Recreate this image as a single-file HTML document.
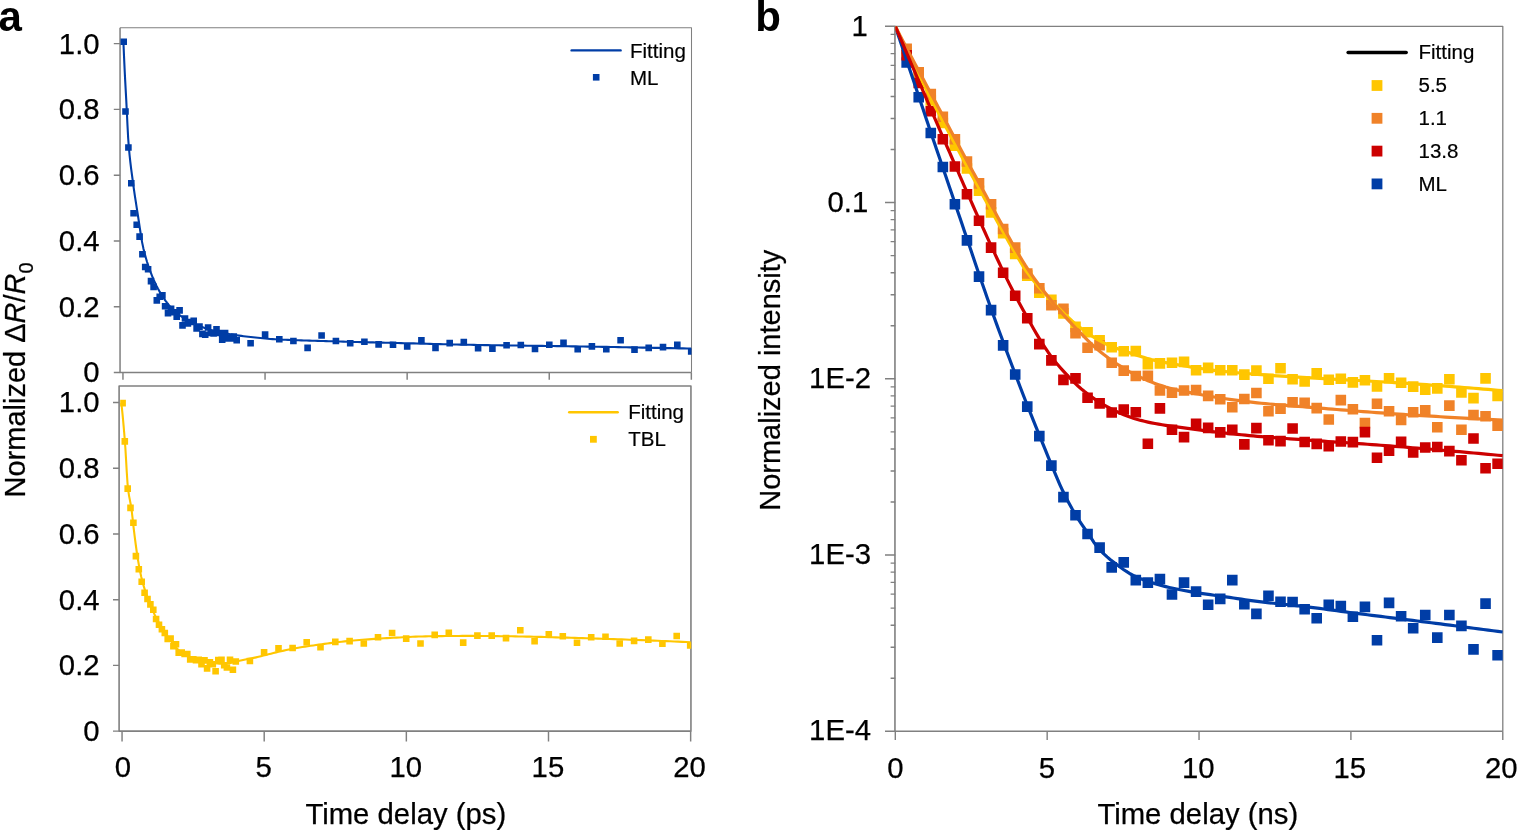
<!DOCTYPE html>
<html lang="en"><head><meta charset="utf-8"><title>Figure</title>
<style>html,body{margin:0;padding:0;background:#fff}body{width:1517px;height:830px;overflow:hidden}svg{display:block}</style></head>
<body>
<svg width="1517" height="830" viewBox="0 0 1517 830" font-family="Liberation Sans, Arial, Helvetica, sans-serif" stroke-linejoin="round">
<rect width="1517" height="830" fill="#fff"/>
<defs><clipPath id="ca1"><rect x="120.2" y="27.7" width="571.3" height="344.4"/></clipPath><clipPath id="ca2"><rect x="120.2" y="386.4" width="571" height="344.6"/></clipPath><clipPath id="cb"><rect x="895.4" y="26.3" width="607.4" height="705"/></clipPath></defs>
<path d="M120.05 27.65V372.5H691.5" fill="none" stroke="#808080" stroke-width="1.5"/><path d="M120.05 27.65H691.5V372.5" fill="none" stroke="#808080" stroke-width="1.05"/>
<g clip-path="url(#ca1)"><path d="M120.4 38.4h6.6v6.6h-6.6zM122.2 108.2h6.6v6.6h-6.6zM125.1 144.2h6.6v6.6h-6.6zM128 180h6.6v6.6h-6.6zM130.3 210h6.6v6.6h-6.6zM133.4 221.5h6.6v6.6h-6.6zM136.3 233.3h6.6v6.6h-6.6zM139.1 251h6.6v6.6h-6.6zM141.9 263.7h6.6v6.6h-6.6zM144.8 265.9h6.6v6.6h-6.6zM147.7 277.8h6.6v6.6h-6.6zM150.3 283.6h6.6v6.6h-6.6zM153.5 297.1h6.6v6.6h-6.6zM156.4 293.5h6.6v6.6h-6.6zM159.1 292.1h6.6v6.6h-6.6zM161.8 302.9h6.6v6.6h-6.6zM164.7 309.8h6.6v6.6h-6.6zM167.8 305.6h6.6v6.6h-6.6zM170.5 308.9h6.6v6.6h-6.6zM173.4 313.4h6.6v6.6h-6.6zM176.3 307.1h6.6v6.6h-6.6zM179.2 322.1h6.6v6.6h-6.6zM181.7 315.2h6.6v6.6h-6.6zM184.6 320.1h6.6v6.6h-6.6zM187.5 318.7h6.6v6.6h-6.6zM190.4 317.4h6.6v6.6h-6.6zM193.3 325.1h6.6v6.6h-6.6zM196.2 323.3h6.6v6.6h-6.6zM199.1 330.6h6.6v6.6h-6.6zM201.9 331.5h6.6v6.6h-6.6zM204.8 324.2h6.6v6.6h-6.6zM207.5 329.7h6.6v6.6h-6.6zM210.3 330.2h6.6v6.6h-6.6zM213.2 326h6.6v6.6h-6.6zM216 329.7h6.6v6.6h-6.6zM218.9 336.3h6.6v6.6h-6.6zM221.8 329.7h6.6v6.6h-6.6zM224.7 335.1h6.6v6.6h-6.6zM227.6 335.1h6.6v6.6h-6.6zM230.5 333.3h6.6v6.6h-6.6zM233.4 336.9h6.6v6.6h-6.6zM247.3 340h6.6v6.6h-6.6zM261.8 331.3h6.6v6.6h-6.6zM276 335.9h6.6v6.6h-6.6zM290.1 337.7h6.6v6.6h-6.6zM304.3 344.6h6.6v6.6h-6.6zM318.3 332.2h6.6v6.6h-6.6zM332.6 337.7h6.6v6.6h-6.6zM346.9 339.9h6.6v6.6h-6.6zM361.1 338.5h6.6v6.6h-6.6zM375.3 341.1h6.6v6.6h-6.6zM389.7 341.4h6.6v6.6h-6.6zM403.9 343.1h6.6v6.6h-6.6zM418.1 337h6.6v6.6h-6.6zM432.2 344.6h6.6v6.6h-6.6zM446.4 339.8h6.6v6.6h-6.6zM460.5 338.8h6.6v6.6h-6.6zM474.8 344.9h6.6v6.6h-6.6zM489.1 345.3h6.6v6.6h-6.6zM503.3 341.9h6.6v6.6h-6.6zM517.5 341.7h6.6v6.6h-6.6zM531.7 345.7h6.6v6.6h-6.6zM546 341.4h6.6v6.6h-6.6zM560.2 339.5h6.6v6.6h-6.6zM574.4 346h6.6v6.6h-6.6zM588.6 343.1h6.6v6.6h-6.6zM603 346h6.6v6.6h-6.6zM617.3 337h6.6v6.6h-6.6zM631.2 346.3h6.6v6.6h-6.6zM645.4 344.6h6.6v6.6h-6.6zM659.7 343.8h6.6v6.6h-6.6zM674 341.4h6.6v6.6h-6.6zM687.9 348.2h6.6v6.6h-6.6z" fill="#003DA6"/><path d="M123.4 41.7 L123.5 44.14 L123.71 49.02 L123.99 55.52 L124.34 63.21 L124.74 71.77 L125.2 80.85 L125.7 90.18 L126.25 100.16 L126.84 111.76 L127.47 125.05 L128.14 137.73 L128.85 147.22 L129.59 155.23 L130.37 162.46 L131.19 169.09 L132.03 175.43 L132.91 181.89 L133.82 188.61 L134.76 195.1 L135.74 201.46 L136.74 207.83 L137.77 214.39 L138.83 221.43 L139.92 228.76 L141.03 235.97 L142.17 242.6 L143.34 248.13 L144.54 252.98 L145.76 257.51 L147 261.74 L148.27 265.69 L149.57 269.41 L150.89 272.94 L152.24 276.33 L153.6 279.59 L155 282.69 L156.41 285.64 L157.85 288.44 L159.31 291.1 L160.8 293.61 L162.31 296.01 L163.84 298.34 L165.39 300.59 L166.96 302.74 L168.55 304.77 L170.17 306.66 L171.81 308.41 L173.47 310.02 L175.15 311.54 L176.85 312.99 L178.57 314.35 L180.31 315.65 L182.07 316.87 L183.85 318.03 L185.65 319.14 L187.47 320.21 L189.31 321.24 L191.17 322.23 L193.05 323.19 L194.95 324.1 L196.87 324.96 L198.8 325.78 L200.76 326.55 L202.73 327.27 L204.72 327.97 L206.74 328.64 L208.77 329.28 L210.81 329.89 L212.88 330.47 L214.96 331.02 L217.06 331.55 L219.18 332.04 L221.32 332.51 L223.48 332.96 L225.65 333.39 L227.84 333.81 L230.05 334.2 L232.27 334.57 L234.51 334.93 L236.77 335.27 L239.05 335.59 L241.34 335.9 L243.65 336.2 L245.98 336.48 L248.32 336.76 L250.68 337.03 L253.06 337.29 L255.45 337.54 L257.86 337.79 L260.28 338.03 L262.72 338.27 L265.18 338.51 L267.66 338.75 L270.15 338.96 L272.65 339.15 L275.17 339.31 L277.71 339.44 L280.26 339.57 L282.83 339.69 L285.42 339.81 L288.02 339.91 L290.63 340.02 L293.26 340.12 L295.91 340.21 L298.57 340.31 L301.25 340.39 L303.94 340.48 L306.65 340.56 L309.37 340.64 L312.11 340.72 L314.86 340.8 L317.63 340.88 L320.41 340.95 L323.21 341.03 L326.02 341.11 L328.84 341.19 L331.69 341.28 L334.54 341.36 L337.41 341.45 L340.3 341.53 L343.2 341.61 L346.11 341.69 L349.04 341.77 L351.98 341.85 L354.94 341.93 L357.91 342.01 L360.89 342.09 L363.89 342.17 L366.9 342.25 L369.93 342.33 L372.97 342.4 L376.03 342.48 L379.1 342.56 L382.18 342.63 L385.28 342.71 L388.39 342.79 L391.51 342.86 L394.65 342.94 L397.8 343.02 L400.97 343.1 L404.14 343.18 L407.34 343.26 L410.54 343.34 L413.76 343.42 L417 343.51 L420.24 343.59 L423.5 343.67 L426.78 343.76 L430.06 343.85 L433.36 343.93 L436.67 344.02 L440 344.1 L443.34 344.18 L446.69 344.27 L450.06 344.35 L453.44 344.43 L456.83 344.51 L460.23 344.59 L463.65 344.67 L467.08 344.74 L470.52 344.82 L473.98 344.89 L477.45 344.95 L480.93 345.02 L484.42 345.08 L487.93 345.14 L491.45 345.2 L494.98 345.25 L498.53 345.31 L502.09 345.36 L505.66 345.41 L509.24 345.47 L512.84 345.52 L516.44 345.57 L520.06 345.61 L523.7 345.66 L527.34 345.71 L531 345.76 L534.67 345.81 L538.35 345.85 L542.05 345.9 L545.75 345.95 L549.47 346 L553.2 346.05 L556.95 346.1 L560.7 346.16 L564.47 346.21 L568.25 346.27 L572.04 346.33 L575.85 346.39 L579.66 346.45 L583.49 346.52 L587.33 346.58 L591.18 346.65 L595.05 346.71 L598.92 346.78 L602.81 346.85 L606.71 346.92 L610.62 346.99 L614.54 347.06 L618.48 347.13 L622.43 347.21 L626.38 347.28 L630.36 347.36 L634.34 347.43 L638.33 347.51 L642.34 347.59 L646.35 347.67 L650.38 347.75 L654.42 347.83 L658.47 347.91 L662.54 347.99 L666.61 348.08 L670.7 348.16 L674.79 348.25 L678.9 348.33 L683.02 348.42 L687.16 348.51 L691.3 348.6" fill="none" stroke="#003DA6" stroke-width="2.1" stroke-linejoin="round"/></g>
<rect x="119.1" y="385.95" width="571.85" height="345.15" fill="none" stroke="#808080" stroke-width="1.6"/>
<path d="M113.8 372.5H120.05M113.8 306.72H120.05M113.8 240.94H120.05M113.8 175.16H120.05M113.8 109.38H120.05M113.8 43.6H120.05M122.95 372.5V379.7M265.05 372.5V379.7M407.15 372.5V379.7M549.25 372.5V379.7M691.35 372.5V379.7M113 731.1H119.1M113 665.38H119.1M113 599.66H119.1M113 533.94H119.1M113 468.22H119.1M113 402.5H119.1M122.05 731.1V741.4M264.2 731.1V741.4M406.35 731.1V741.4M548.5 731.1V741.4M690.65 731.1V741.4" stroke="#808080" stroke-width="1.45" fill="none"/>
<g clip-path="url(#ca2)"><path d="M119.3 399.8h6.6v6.6h-6.6zM121.5 438.1h6.6v6.6h-6.6zM124.4 485.3h6.6v6.6h-6.6zM127.2 504.6h6.6v6.6h-6.6zM130.1 519.4h6.6v6.6h-6.6zM132.6 552.8h6.6v6.6h-6.6zM135.5 566h6.6v6.6h-6.6zM138.4 578.5h6.6v6.6h-6.6zM141.3 589.4h6.6v6.6h-6.6zM144.2 595.7h6.6v6.6h-6.6zM147.1 601.1h6.6v6.6h-6.6zM150 606.5h6.6v6.6h-6.6zM152.8 615.7h6.6v6.6h-6.6zM155.7 621.5h6.6v6.6h-6.6zM158.6 626h6.6v6.6h-6.6zM161.5 629.7h6.6v6.6h-6.6zM164.4 635.6h6.6v6.6h-6.6zM167.3 635.2h6.6v6.6h-6.6zM170.1 642.9h6.6v6.6h-6.6zM172.7 640.9h6.6v6.6h-6.6zM175.4 649.3h6.6v6.6h-6.6zM178.4 649.3h6.6v6.6h-6.6zM181.3 650.7h6.6v6.6h-6.6zM184 650.7h6.6v6.6h-6.6zM186.9 656.1h6.6v6.6h-6.6zM190 656.1h6.6v6.6h-6.6zM192.7 656.8h6.6v6.6h-6.6zM195.4 656.4h6.6v6.6h-6.6zM198.2 660.9h6.6v6.6h-6.6zM201.2 657.1h6.6v6.6h-6.6zM203.8 665.1h6.6v6.6h-6.6zM206.6 659.1h6.6v6.6h-6.6zM209.5 660.9h6.6v6.6h-6.6zM212.3 668h6.6v6.6h-6.6zM215 656.8h6.6v6.6h-6.6zM218.2 656.4h6.6v6.6h-6.6zM220.9 662h6.6v6.6h-6.6zM223.6 664.2h6.6v6.6h-6.6zM226.7 656.6h6.6v6.6h-6.6zM229.6 666.4h6.6v6.6h-6.6zM232.5 658.2h6.6v6.6h-6.6zM246.6 657.7h6.6v6.6h-6.6zM260.8 649h6.6v6.6h-6.6zM275.2 645h6.6v6.6h-6.6zM289.3 644.7h6.6v6.6h-6.6zM303.4 639h6.6v6.6h-6.6zM317.2 644h6.6v6.6h-6.6zM332 638.6h6.6v6.6h-6.6zM346.3 637.8h6.6v6.6h-6.6zM360.5 640.2h6.6v6.6h-6.6zM374.7 633.9h6.6v6.6h-6.6zM388.8 629.7h6.6v6.6h-6.6zM402.9 635.3h6.6v6.6h-6.6zM417.2 640.2h6.6v6.6h-6.6zM431.4 631.6h6.6v6.6h-6.6zM445.5 629.4h6.6v6.6h-6.6zM459.9 639.3h6.6v6.6h-6.6zM474.1 632.3h6.6v6.6h-6.6zM488.4 632.3h6.6v6.6h-6.6zM502.7 634.8h6.6v6.6h-6.6zM517 627h6.6v6.6h-6.6zM531.3 638h6.6v6.6h-6.6zM545.5 631h6.6v6.6h-6.6zM559.5 633h6.6v6.6h-6.6zM573.7 639.5h6.6v6.6h-6.6zM587.9 633.9h6.6v6.6h-6.6zM602.2 633.4h6.6v6.6h-6.6zM616.4 640.2h6.6v6.6h-6.6zM630.8 637.6h6.6v6.6h-6.6zM645 636.3h6.6v6.6h-6.6zM659.1 640.5h6.6v6.6h-6.6zM673.4 632.7h6.6v6.6h-6.6zM686.9 642.2h6.6v6.6h-6.6z" fill="#FFC600"/><path d="M121.3 403 L121.4 403.85 L121.61 405.63 L121.89 408.17 L122.24 411.44 L122.65 415.45 L123.1 420.25 L123.61 425.84 L124.15 432.25 L124.75 439.48 L125.38 448.23 L126.05 459.55 L126.76 471.97 L127.51 483.28 L128.29 490.9 L129.11 496.09 L129.95 500.38 L130.84 504.96 L131.75 511.23 L132.69 519.25 L133.67 528.02 L134.67 536.33 L135.7 544.26 L136.77 552 L137.86 559.14 L138.97 565.57 L140.12 571.58 L141.29 577.06 L142.49 581.87 L143.71 586.17 L144.96 590.11 L146.23 593.83 L147.53 597.49 L148.86 601.03 L150.21 604.45 L151.58 607.75 L152.97 610.94 L154.39 614.06 L155.84 617.09 L157.3 620.04 L158.79 622.85 L160.3 625.52 L161.83 628.05 L163.39 630.47 L164.97 632.81 L166.57 635.06 L168.19 637.25 L169.83 639.45 L171.49 641.69 L173.17 643.9 L174.88 646.05 L176.6 648.07 L178.35 649.9 L180.11 651.47 L181.9 652.77 L183.7 653.91 L185.53 654.94 L187.37 655.85 L189.24 656.68 L191.12 657.45 L193.03 658.17 L194.95 658.86 L196.89 659.49 L198.85 660.07 L200.83 660.6 L202.83 661.07 L204.84 661.5 L206.88 661.91 L208.93 662.28 L211 662.61 L213.09 662.89 L215.2 663.14 L217.32 663.39 L219.46 663.6 L221.62 663.7 L223.8 663.65 L226 663.48 L228.21 663.23 L230.44 662.94 L232.69 662.51 L234.95 661.95 L237.23 661.33 L239.53 660.77 L241.85 660.27 L244.18 659.79 L246.53 659.32 L248.89 658.85 L251.28 658.37 L253.67 657.88 L256.09 657.36 L258.52 656.8 L260.97 656.21 L263.43 655.59 L265.91 654.95 L268.41 654.3 L270.92 653.65 L273.45 653 L275.99 652.38 L278.55 651.79 L281.13 651.22 L283.72 650.65 L286.32 650.09 L288.95 649.54 L291.58 649 L294.24 648.48 L296.9 647.98 L299.59 647.5 L302.29 647.05 L305 646.62 L307.73 646.21 L310.47 645.81 L313.23 645.42 L316.01 645.04 L318.8 644.66 L321.6 644.29 L324.42 643.91 L327.25 643.53 L330.1 643.15 L332.96 642.78 L335.84 642.42 L338.73 642.07 L341.64 641.73 L344.56 641.4 L347.49 641.1 L350.44 640.82 L353.41 640.55 L356.38 640.29 L359.38 640.04 L362.38 639.8 L365.4 639.56 L368.44 639.33 L371.49 639.11 L374.55 638.89 L377.63 638.69 L380.72 638.49 L383.82 638.3 L386.94 638.12 L390.07 637.95 L393.22 637.78 L396.38 637.6 L399.55 637.43 L402.74 637.27 L405.94 637.11 L409.15 636.95 L412.38 636.81 L415.62 636.67 L418.87 636.55 L422.14 636.45 L425.42 636.36 L428.72 636.3 L432.03 636.25 L435.35 636.19 L438.68 636.14 L442.03 636.1 L445.39 636.05 L448.76 636.02 L452.15 635.98 L455.55 635.95 L458.96 635.93 L462.39 635.91 L465.83 635.9 L469.28 635.9 L472.74 635.91 L476.22 635.92 L479.71 635.94 L483.21 635.97 L486.73 636.01 L490.26 636.04 L493.8 636.09 L497.35 636.13 L500.92 636.18 L504.5 636.23 L508.09 636.27 L511.7 636.32 L515.31 636.38 L518.94 636.44 L522.58 636.51 L526.24 636.58 L529.9 636.66 L533.58 636.74 L537.27 636.83 L540.98 636.92 L544.69 637.02 L548.42 637.12 L552.16 637.22 L555.92 637.33 L559.68 637.44 L563.46 637.55 L567.25 637.67 L571.05 637.78 L574.86 637.9 L578.69 638.02 L582.52 638.14 L586.37 638.27 L590.24 638.39 L594.11 638.51 L597.99 638.63 L601.89 638.75 L605.8 638.88 L609.72 639.01 L613.66 639.14 L617.6 639.28 L621.56 639.42 L625.52 639.56 L629.5 639.71 L633.5 639.85 L637.5 640 L641.52 640.16 L645.54 640.31 L649.58 640.47 L653.63 640.63 L657.69 640.79 L661.77 640.96 L665.85 641.13 L669.95 641.3 L674.05 641.48 L678.17 641.65 L682.3 641.83 L686.45 642.02 L690.6 642.2" fill="none" stroke="#FFC600" stroke-width="2.1" stroke-linejoin="round"/></g>
<path d="M571.6 50.4H620.6" stroke="#003DA6" stroke-width="2.4" stroke-linecap="round"/>
<path d="M592.9 74h6.6v6.6h-6.6z" fill="#003DA6"/>
<path d="M569.3 412.2H617.6" stroke="#FFC600" stroke-width="2.6" stroke-linecap="round"/>
<path d="M590 435.9h6.8v6.8h-6.8z" fill="#FFC600"/>
<g font-size="20.5" fill="#000" stroke="#000" stroke-width="0.2"><text x="630" y="57.9">Fitting</text><text x="630" y="84.6">ML</text><text x="628.2" y="418.7">Fitting</text><text x="628.2" y="445.8">TBL</text></g>
<g font-size="29.3" fill="#000" stroke="#000" stroke-width="0.25" text-anchor="end">
<text x="99.6" y="382.4">0</text>
<text x="99.6" y="316.62">0.2</text>
<text x="99.6" y="250.84">0.4</text>
<text x="99.6" y="185.06">0.6</text>
<text x="99.6" y="119.28">0.8</text>
<text x="99.6" y="53.5">1.0</text>
<text x="99.6" y="675.28">0.2</text>
<text x="99.6" y="609.56">0.4</text>
<text x="99.6" y="543.84">0.6</text>
<text x="99.6" y="478.12">0.8</text>
<text x="99.6" y="412.4">1.0</text>
<text x="99.6" y="741">0</text>
</g>
<g font-size="29.3" fill="#000" stroke="#000" stroke-width="0.25" text-anchor="middle">
<text x="123" y="777.3">0</text>
<text x="263.65" y="777.3">5</text>
<text x="405.7" y="777.3">10</text>
<text x="547.9" y="777.3">15</text>
<text x="689.6" y="777.3">20</text>
<text x="895.3" y="777.6">0</text>
<text x="1046.8" y="777.6">5</text>
<text x="1198.3" y="777.6">10</text>
<text x="1349.8" y="777.6">15</text>
<text x="1501.3" y="777.6">20</text>
</g>
<g font-size="29" fill="#000" stroke="#000" stroke-width="0.25">
<text x="305.4" y="823.6" font-size="29.3">Time delay (ps)</text>
<text x="1097.4" y="823.6" font-size="29.3">Time delay (ns)</text>
<text transform="translate(25.3 497.5) rotate(-90)">Normalized Δ<tspan font-style="italic">R</tspan>/<tspan font-style="italic">R</tspan><tspan font-size="20" dy="8">0</tspan></text>
<text transform="translate(780.4 510.8) rotate(-90)">Normalized intensity</text>
</g>
<g font-size="42" font-weight="bold" fill="#000"><text x="-1.6" y="31">a</text><text x="755.2" y="30.7">b</text></g>
<path d="M894.95 26.3V731.3H1502.8" fill="none" stroke="#808080" stroke-width="1.6"/><path d="M894.95 26.3H1502.8V731.3" fill="none" stroke="#808080" stroke-width="1.3"/>
<path d="M885 26.3H895.3M890.6 149.49H895.3M890.6 118.46H895.3M890.6 96.44H895.3M890.6 79.36H895.3M890.6 65.4H895.3M890.6 53.6H895.3M890.6 43.38H895.3M890.6 34.36H895.3M885 202.55H895.3M890.6 325.74H895.3M890.6 294.71H895.3M890.6 272.69H895.3M890.6 255.61H895.3M890.6 241.65H895.3M890.6 229.85H895.3M890.6 219.63H895.3M890.6 210.61H895.3M885 378.8H895.3M890.6 501.99H895.3M890.6 470.96H895.3M890.6 448.94H895.3M890.6 431.86H895.3M890.6 417.9H895.3M890.6 406.1H895.3M890.6 395.88H895.3M890.6 386.86H895.3M885 555.05H895.3M890.6 678.24H895.3M890.6 647.21H895.3M890.6 625.19H895.3M890.6 608.11H895.3M890.6 594.15H895.3M890.6 582.35H895.3M890.6 572.13H895.3M890.6 563.11H895.3M885 731.3H895.3M895.3 731.3V739.9M1047.17 731.3V739.9M1199.04 731.3V739.9M1350.91 731.3V739.9M1502.78 731.3V739.9" stroke="#808080" stroke-width="1.4" fill="none"/>
<g font-size="29.3" fill="#000" stroke="#000" stroke-width="0.25" text-anchor="end">
<text x="867.8" y="36.1">1</text>
<text x="868.3" y="211.85">0.1</text>
<text x="871" y="388">1E-2</text>
<text x="871" y="564.15">1E-3</text>
<text x="871" y="740.2">1E-4</text>
</g>
<g clip-path="url(#cb)">
<path d="M901.36 46.7h10.6v10.6h-10.6zM913.42 71.7h10.6v10.6h-10.6zM925.48 95.2h10.6v10.6h-10.6zM937.54 117.7h10.6v10.6h-10.6zM949.6 140.3h10.6v10.6h-10.6zM961.66 163.2h10.6v10.6h-10.6zM973.72 185.4h10.6v10.6h-10.6zM985.78 207.1h10.6v10.6h-10.6zM997.84 227.8h10.6v10.6h-10.6zM1009.9 248.6h10.6v10.6h-10.6zM1021.96 270.3h10.6v10.6h-10.6zM1034.02 287.4h10.6v10.6h-10.6zM1046.08 294.5h10.6v10.6h-10.6zM1058.14 308.1h10.6v10.6h-10.6zM1070.2 321.6h10.6v10.6h-10.6zM1082.26 327h10.6v10.6h-10.6zM1094.32 335h10.6v10.6h-10.6zM1106.38 341.9h10.6v10.6h-10.6zM1118.44 346h10.6v10.6h-10.6zM1130.5 345.8h10.6v10.6h-10.6zM1142.56 359h10.6v10.6h-10.6zM1154.62 358.1h10.6v10.6h-10.6zM1166.68 357.4h10.6v10.6h-10.6zM1178.74 356.6h10.6v10.6h-10.6zM1190.8 365h10.6v10.6h-10.6zM1202.86 362.6h10.6v10.6h-10.6zM1214.92 365h10.6v10.6h-10.6zM1226.98 365h10.6v10.6h-10.6zM1239.04 369.3h10.6v10.6h-10.6zM1251.1 365.3h10.6v10.6h-10.6zM1263.16 373.4h10.6v10.6h-10.6zM1275.22 363h10.6v10.6h-10.6zM1287.28 374h10.6v10.6h-10.6zM1299.34 376.2h10.6v10.6h-10.6zM1311.4 368.1h10.6v10.6h-10.6zM1323.46 374.4h10.6v10.6h-10.6zM1335.52 373.5h10.6v10.6h-10.6zM1347.58 377.1h10.6v10.6h-10.6zM1359.64 375h10.6v10.6h-10.6zM1371.7 381.1h10.6v10.6h-10.6zM1383.76 373h10.6v10.6h-10.6zM1395.82 377.5h10.6v10.6h-10.6zM1407.88 381.3h10.6v10.6h-10.6zM1419.94 384.4h10.6v10.6h-10.6zM1432 383.1h10.6v10.6h-10.6zM1444.06 373.9h10.6v10.6h-10.6zM1456.12 387.1h10.6v10.6h-10.6zM1468.18 392.8h10.6v10.6h-10.6zM1480.24 373.1h10.6v10.6h-10.6zM1492.3 390.7h10.6v10.6h-10.6z" fill="#FFC600"/>
<path d="M901.36 43.6h10.6v10.6h-10.6zM913.42 67.1h10.6v10.6h-10.6zM925.48 88.8h10.6v10.6h-10.6zM937.54 111.4h10.6v10.6h-10.6zM949.6 134h10.6v10.6h-10.6zM961.66 156.2h10.6v10.6h-10.6zM973.72 178.1h10.6v10.6h-10.6zM985.78 198.9h10.6v10.6h-10.6zM997.84 223.7h10.6v10.6h-10.6zM1009.9 242.3h10.6v10.6h-10.6zM1021.96 268.2h10.6v10.6h-10.6zM1034.02 282.9h10.6v10.6h-10.6zM1046.08 299.9h10.6v10.6h-10.6zM1058.14 303.6h10.6v10.6h-10.6zM1070.2 328h10.6v10.6h-10.6zM1082.26 342.5h10.6v10.6h-10.6zM1094.32 339.9h10.6v10.6h-10.6zM1106.38 357.5h10.6v10.6h-10.6zM1118.44 365.3h10.6v10.6h-10.6zM1130.5 370.7h10.6v10.6h-10.6zM1142.56 370.4h10.6v10.6h-10.6zM1154.62 385.2h10.6v10.6h-10.6zM1166.68 387.4h10.6v10.6h-10.6zM1178.74 385.2h10.6v10.6h-10.6zM1190.8 384.7h10.6v10.6h-10.6zM1202.86 390.6h10.6v10.6h-10.6zM1214.92 393.9h10.6v10.6h-10.6zM1226.98 402h10.6v10.6h-10.6zM1239.04 393.7h10.6v10.6h-10.6zM1251.1 387.7h10.6v10.6h-10.6zM1263.16 406h10.6v10.6h-10.6zM1275.22 403.3h10.6v10.6h-10.6zM1287.28 396.9h10.6v10.6h-10.6zM1299.34 397.5h10.6v10.6h-10.6zM1311.4 402.8h10.6v10.6h-10.6zM1323.46 414.2h10.6v10.6h-10.6zM1335.52 394.8h10.6v10.6h-10.6zM1347.58 403.9h10.6v10.6h-10.6zM1359.64 417.8h10.6v10.6h-10.6zM1371.7 398.5h10.6v10.6h-10.6zM1383.76 406h10.6v10.6h-10.6zM1395.82 414.7h10.6v10.6h-10.6zM1407.88 406.9h10.6v10.6h-10.6zM1419.94 405.1h10.6v10.6h-10.6zM1432 422h10.6v10.6h-10.6zM1444.06 400.3h10.6v10.6h-10.6zM1456.12 424.5h10.6v10.6h-10.6zM1468.18 409.7h10.6v10.6h-10.6zM1480.24 410.9h10.6v10.6h-10.6zM1492.3 420.5h10.6v10.6h-10.6z" fill="#F08228"/>
<path d="M901.36 57.2h10.6v10.6h-10.6zM913.42 91.9h10.6v10.6h-10.6zM925.48 127.7h10.6v10.6h-10.6zM937.54 161.7h10.6v10.6h-10.6zM949.6 198.9h10.6v10.6h-10.6zM961.66 235.1h10.6v10.6h-10.6zM973.72 271.3h10.6v10.6h-10.6zM985.78 304.8h10.6v10.6h-10.6zM997.84 340.1h10.6v10.6h-10.6zM1009.9 369.2h10.6v10.6h-10.6zM1021.96 401.3h10.6v10.6h-10.6zM1034.02 430.8h10.6v10.6h-10.6zM1046.08 460.3h10.6v10.6h-10.6zM1058.14 491.8h10.6v10.6h-10.6zM1070.2 510h10.6v10.6h-10.6zM1082.26 528.7h10.6v10.6h-10.6zM1094.32 542.3h10.6v10.6h-10.6zM1106.38 562.1h10.6v10.6h-10.6zM1118.44 557.1h10.6v10.6h-10.6zM1130.5 574.8h10.6v10.6h-10.6zM1142.56 577.3h10.6v10.6h-10.6zM1154.62 573.7h10.6v10.6h-10.6zM1166.68 589.2h10.6v10.6h-10.6zM1178.74 577.3h10.6v10.6h-10.6zM1190.8 586.3h10.6v10.6h-10.6zM1202.86 599.5h10.6v10.6h-10.6zM1214.92 593.6h10.6v10.6h-10.6zM1226.98 574.8h10.6v10.6h-10.6zM1239.04 599h10.6v10.6h-10.6zM1251.1 608.6h10.6v10.6h-10.6zM1263.16 590.5h10.6v10.6h-10.6zM1275.22 596.5h10.6v10.6h-10.6zM1287.28 596.7h10.6v10.6h-10.6zM1299.34 603.9h10.6v10.6h-10.6zM1311.4 613h10.6v10.6h-10.6zM1323.46 599.4h10.6v10.6h-10.6zM1335.52 600.7h10.6v10.6h-10.6zM1347.58 611.5h10.6v10.6h-10.6zM1359.64 601.6h10.6v10.6h-10.6zM1371.7 635h10.6v10.6h-10.6zM1383.76 597.6h10.6v10.6h-10.6zM1395.82 611h10.6v10.6h-10.6zM1407.88 622.9h10.6v10.6h-10.6zM1419.94 609.7h10.6v10.6h-10.6zM1432 632.3h10.6v10.6h-10.6zM1444.06 609.7h10.6v10.6h-10.6zM1456.12 620.6h10.6v10.6h-10.6zM1468.18 644.1h10.6v10.6h-10.6zM1480.24 598.3h10.6v10.6h-10.6zM1492.3 650h10.6v10.6h-10.6z" fill="#003DA6"/>
<path d="M901.36 49.9h10.6v10.6h-10.6zM913.42 77.7h10.6v10.6h-10.6zM925.48 106h10.6v10.6h-10.6zM937.54 134h10.6v10.6h-10.6zM949.6 161.2h10.6v10.6h-10.6zM961.66 189h10.6v10.6h-10.6zM973.72 215.5h10.6v10.6h-10.6zM985.78 242.3h10.6v10.6h-10.6zM997.84 267.5h10.6v10.6h-10.6zM1009.9 290.5h10.6v10.6h-10.6zM1021.96 313h10.6v10.6h-10.6zM1034.02 338.8h10.6v10.6h-10.6zM1046.08 355.1h10.6v10.6h-10.6zM1058.14 374.6h10.6v10.6h-10.6zM1070.2 373.1h10.6v10.6h-10.6zM1082.26 392.4h10.6v10.6h-10.6zM1094.32 398.1h10.6v10.6h-10.6zM1106.38 407.2h10.6v10.6h-10.6zM1118.44 404.2h10.6v10.6h-10.6zM1130.5 406.9h10.6v10.6h-10.6zM1142.56 438.5h10.6v10.6h-10.6zM1154.62 403.1h10.6v10.6h-10.6zM1166.68 424.4h10.6v10.6h-10.6zM1178.74 431.8h10.6v10.6h-10.6zM1190.8 418.6h10.6v10.6h-10.6zM1202.86 422.6h10.6v10.6h-10.6zM1214.92 427.1h10.6v10.6h-10.6zM1226.98 424.6h10.6v10.6h-10.6zM1239.04 439.1h10.6v10.6h-10.6zM1251.1 422.8h10.6v10.6h-10.6zM1263.16 434.9h10.6v10.6h-10.6zM1275.22 435.8h10.6v10.6h-10.6zM1287.28 423.2h10.6v10.6h-10.6zM1299.34 436.7h10.6v10.6h-10.6zM1311.4 438.6h10.6v10.6h-10.6zM1323.46 440.8h10.6v10.6h-10.6zM1335.52 436.2h10.6v10.6h-10.6zM1347.58 436.8h10.6v10.6h-10.6zM1359.64 426.8h10.6v10.6h-10.6zM1371.7 452.5h10.6v10.6h-10.6zM1383.76 445.5h10.6v10.6h-10.6zM1395.82 436.4h10.6v10.6h-10.6zM1407.88 447.1h10.6v10.6h-10.6zM1419.94 442.2h10.6v10.6h-10.6zM1432 441.7h10.6v10.6h-10.6zM1444.06 445.8h10.6v10.6h-10.6zM1456.12 454.9h10.6v10.6h-10.6zM1468.18 433.2h10.6v10.6h-10.6zM1480.24 463h10.6v10.6h-10.6zM1492.3 458.5h10.6v10.6h-10.6z" fill="#CC0000"/>
<path d="M895.3 26.3 L895.43 26.68 L895.69 27.45 L896.04 28.51 L896.47 29.8 L896.97 31.3 L897.54 32.99 L898.17 34.87 L898.85 36.91 L899.59 39.11 L900.37 41.46 L901.21 43.96 L902.09 46.59 L903.02 49.37 L903.99 52.27 L905.01 55.3 L906.06 58.46 L907.16 61.73 L908.3 65.13 L909.47 68.64 L910.68 72.26 L911.93 75.99 L913.22 79.83 L914.54 83.77 L915.89 87.82 L917.28 91.98 L918.71 96.23 L920.16 100.58 L921.65 105.04 L923.18 109.61 L924.73 114.26 L926.31 119.01 L927.93 123.84 L929.58 128.75 L931.25 133.72 L932.96 138.75 L934.7 143.83 L936.46 148.98 L938.26 154.21 L940.08 159.51 L941.93 164.91 L943.81 170.41 L945.72 176.01 L947.65 181.71 L949.61 187.49 L951.6 193.36 L953.62 199.3 L955.66 205.32 L957.73 211.41 L959.82 217.58 L961.94 223.82 L964.08 230.14 L966.26 236.54 L968.45 243.01 L970.67 249.58 L972.92 256.22 L975.19 262.93 L977.48 269.68 L979.8 276.44 L982.14 283.23 L984.51 290.07 L986.9 296.92 L989.32 303.79 L991.76 310.65 L994.22 317.51 L996.7 324.35 L999.21 331.2 L1001.74 338.07 L1004.29 344.96 L1006.87 351.87 L1009.47 358.79 L1012.09 365.73 L1014.73 372.69 L1017.4 379.68 L1020.08 386.7 L1022.79 393.74 L1025.52 400.77 L1028.27 407.77 L1031.05 414.71 L1033.84 421.63 L1036.66 428.54 L1039.5 435.51 L1042.36 442.57 L1045.24 449.7 L1048.14 456.83 L1051.06 463.88 L1054 470.87 L1056.96 477.89 L1059.95 484.78 L1062.95 491.33 L1065.97 497.43 L1069.02 503.23 L1072.08 508.76 L1075.17 514.04 L1078.27 519.05 L1081.4 523.77 L1084.54 528.34 L1087.7 532.92 L1090.89 537.72 L1094.09 542.59 L1097.31 546.97 L1100.56 550.58 L1103.82 553.85 L1107.1 556.86 L1110.4 559.66 L1113.72 562.3 L1117.05 564.84 L1120.41 567.32 L1123.79 569.71 L1127.18 571.95 L1130.59 574.01 L1134.03 575.82 L1137.48 577.4 L1140.94 578.84 L1144.43 580.16 L1147.94 581.38 L1151.46 582.53 L1155 583.64 L1158.56 584.68 L1162.14 585.66 L1165.74 586.59 L1169.36 587.46 L1172.99 588.28 L1176.64 589.06 L1180.31 589.79 L1183.99 590.49 L1187.7 591.16 L1191.42 591.8 L1195.16 592.41 L1198.92 592.99 L1202.69 593.56 L1206.48 594.12 L1210.29 594.66 L1214.12 595.21 L1217.96 595.75 L1221.82 596.3 L1225.7 596.86 L1229.6 597.43 L1233.51 598.01 L1237.44 598.59 L1241.39 599.16 L1245.35 599.74 L1249.33 600.3 L1253.33 600.84 L1257.34 601.37 L1261.38 601.87 L1265.42 602.34 L1269.49 602.79 L1273.57 603.23 L1277.67 603.65 L1281.78 604.07 L1285.91 604.48 L1290.06 604.91 L1294.22 605.35 L1298.4 605.82 L1302.6 606.31 L1306.81 606.81 L1311.04 607.34 L1315.28 607.88 L1319.55 608.43 L1323.82 608.99 L1328.12 609.56 L1332.42 610.13 L1336.75 610.71 L1341.09 611.3 L1345.45 611.88 L1349.82 612.47 L1354.21 613.05 L1358.61 613.62 L1363.04 614.19 L1367.47 614.76 L1371.92 615.32 L1376.39 615.89 L1380.87 616.45 L1385.37 617.02 L1389.89 617.58 L1394.42 618.15 L1398.96 618.72 L1403.52 619.29 L1408.1 619.86 L1412.69 620.44 L1417.3 621.01 L1421.92 621.59 L1426.56 622.18 L1431.21 622.77 L1435.88 623.36 L1440.56 623.96 L1445.26 624.56 L1449.97 625.16 L1454.7 625.77 L1459.44 626.38 L1464.2 626.99 L1468.97 627.61 L1473.76 628.23 L1478.56 628.85 L1483.38 629.47 L1488.21 630.1 L1493.06 630.73 L1497.92 631.36 L1502.8 632" fill="none" stroke="#003DA6" stroke-width="3.2" stroke-linejoin="round"/>
<path d="M895.3 26.3 L895.43 26.57 L895.69 27.12 L896.04 27.87 L896.47 28.78 L896.97 29.84 L897.54 31.04 L898.17 32.36 L898.85 33.8 L899.59 35.35 L900.37 37 L901.21 38.75 L902.09 40.59 L903.02 42.53 L903.99 44.55 L905.01 46.66 L906.06 48.84 L907.16 51.11 L908.3 53.45 L909.47 55.87 L910.68 58.35 L911.93 60.91 L913.22 63.53 L914.54 66.22 L915.89 68.96 L917.28 71.77 L918.71 74.62 L920.16 77.52 L921.65 80.46 L923.18 83.45 L924.73 86.49 L926.31 89.57 L927.93 92.7 L929.58 95.89 L931.25 99.12 L932.96 102.41 L934.7 105.75 L936.46 109.13 L938.26 112.55 L940.08 116.02 L941.93 119.53 L943.81 123.09 L945.72 126.67 L947.65 130.29 L949.61 133.95 L951.6 137.65 L953.62 141.4 L955.66 145.2 L957.73 149.07 L959.82 152.99 L961.94 156.96 L964.08 160.97 L966.26 165.01 L968.45 169.07 L970.67 173.14 L972.92 177.24 L975.19 181.38 L977.48 185.55 L979.8 189.78 L982.14 194.06 L984.51 198.4 L986.9 202.78 L989.32 207.18 L991.76 211.6 L994.22 216.03 L996.7 220.48 L999.21 224.96 L1001.74 229.45 L1004.29 233.96 L1006.87 238.51 L1009.47 243.09 L1012.09 247.66 L1014.73 252.19 L1017.4 256.7 L1020.08 261.29 L1022.79 265.79 L1025.52 270.03 L1028.27 273.87 L1031.05 277.53 L1033.84 281.06 L1036.66 284.48 L1039.5 287.79 L1042.36 291.03 L1045.24 294.18 L1048.14 297.28 L1051.06 300.33 L1054 303.35 L1056.96 306.36 L1059.95 309.36 L1062.95 312.35 L1065.97 315.3 L1069.02 318.18 L1072.08 320.98 L1075.17 323.65 L1078.27 326.18 L1081.4 328.54 L1084.54 330.84 L1087.7 333.08 L1090.89 335.24 L1094.09 337.33 L1097.31 339.31 L1100.56 341.17 L1103.82 342.91 L1107.1 344.5 L1110.4 345.95 L1113.72 347.3 L1117.05 348.56 L1120.41 349.76 L1123.79 350.9 L1127.18 352.02 L1130.59 353.13 L1134.03 354.24 L1137.48 355.38 L1140.94 356.52 L1144.43 357.62 L1147.94 358.66 L1151.46 359.6 L1155 360.43 L1158.56 361.22 L1162.14 361.97 L1165.74 362.69 L1169.36 363.37 L1172.99 364.03 L1176.64 364.67 L1180.31 365.28 L1183.99 365.88 L1187.7 366.47 L1191.42 367.06 L1195.16 367.63 L1198.92 368.19 L1202.69 368.74 L1206.48 369.28 L1210.29 369.79 L1214.12 370.29 L1217.96 370.76 L1221.82 371.2 L1225.7 371.61 L1229.6 372.01 L1233.51 372.38 L1237.44 372.73 L1241.39 373.07 L1245.35 373.4 L1249.33 373.72 L1253.33 374.03 L1257.34 374.34 L1261.38 374.64 L1265.42 374.95 L1269.49 375.25 L1273.57 375.54 L1277.67 375.83 L1281.78 376.11 L1285.91 376.39 L1290.06 376.66 L1294.22 376.93 L1298.4 377.2 L1302.6 377.46 L1306.81 377.72 L1311.04 377.97 L1315.28 378.21 L1319.55 378.45 L1323.82 378.69 L1328.12 378.92 L1332.42 379.15 L1336.75 379.38 L1341.09 379.61 L1345.45 379.83 L1349.82 380.06 L1354.21 380.29 L1358.61 380.52 L1363.04 380.75 L1367.47 380.99 L1371.92 381.23 L1376.39 381.48 L1380.87 381.73 L1385.37 381.99 L1389.89 382.26 L1394.42 382.54 L1398.96 382.83 L1403.52 383.13 L1408.1 383.43 L1412.69 383.74 L1417.3 384.05 L1421.92 384.37 L1426.56 384.7 L1431.21 385.03 L1435.88 385.37 L1440.56 385.71 L1445.26 386.06 L1449.97 386.41 L1454.7 386.78 L1459.44 387.14 L1464.2 387.52 L1468.97 387.89 L1473.76 388.28 L1478.56 388.67 L1483.38 389.06 L1488.21 389.46 L1493.06 389.87 L1497.92 390.28 L1502.8 390.7" fill="none" stroke="#FFC600" stroke-width="3.2" stroke-linejoin="round"/>
<path d="M895.3 26.3 L895.43 26.55 L895.69 27.05 L896.04 27.74 L896.47 28.59 L896.97 29.56 L897.54 30.67 L898.17 31.88 L898.85 33.21 L899.59 34.63 L900.37 36.16 L901.21 37.77 L902.09 39.47 L903.02 41.25 L903.99 43.11 L905.01 45.05 L906.06 47.06 L907.16 49.14 L908.3 51.29 L909.47 53.5 L910.68 55.77 L911.93 58.11 L913.22 60.5 L914.54 62.95 L915.89 65.47 L917.28 68.06 L918.71 70.71 L920.16 73.43 L921.65 76.21 L923.18 79.05 L924.73 81.95 L926.31 84.91 L927.93 87.93 L929.58 91 L931.25 94.13 L932.96 97.32 L934.7 100.56 L936.46 103.86 L938.26 107.21 L940.08 110.61 L941.93 114.07 L943.81 117.58 L945.72 121.14 L947.65 124.75 L949.61 128.41 L951.6 132.13 L953.62 135.89 L955.66 139.7 L957.73 143.57 L959.82 147.49 L961.94 151.46 L964.08 155.47 L966.26 159.51 L968.45 163.57 L970.67 167.64 L972.92 171.74 L975.19 175.88 L977.48 180.05 L979.8 184.28 L982.14 188.56 L984.51 192.88 L986.9 197.24 L989.32 201.65 L991.76 206.1 L994.22 210.6 L996.7 215.16 L999.21 219.75 L1001.74 224.36 L1004.29 228.98 L1006.87 233.65 L1009.47 238.35 L1012.09 243.04 L1014.73 247.66 L1017.4 252.22 L1020.08 256.77 L1022.79 261.27 L1025.52 265.66 L1028.27 269.87 L1031.05 273.9 L1033.84 277.84 L1036.66 281.71 L1039.5 285.51 L1042.36 289.25 L1045.24 292.93 L1048.14 296.56 L1051.06 300.15 L1054 303.71 L1056.96 307.25 L1059.95 310.75 L1062.95 314.2 L1065.97 317.59 L1069.02 320.93 L1072.08 324.23 L1075.17 327.49 L1078.27 330.72 L1081.4 333.93 L1084.54 337.15 L1087.7 340.34 L1090.89 343.46 L1094.09 346.48 L1097.31 349.33 L1100.56 352.02 L1103.82 354.59 L1107.1 357.06 L1110.4 359.44 L1113.72 361.73 L1117.05 363.96 L1120.41 366.14 L1123.79 368.27 L1127.18 370.31 L1130.59 372.27 L1134.03 374.11 L1137.48 375.86 L1140.94 377.54 L1144.43 379.14 L1147.94 380.66 L1151.46 382.08 L1155 383.41 L1158.56 384.67 L1162.14 385.87 L1165.74 386.99 L1169.36 388.02 L1172.99 388.96 L1176.64 389.83 L1180.31 390.63 L1183.99 391.4 L1187.7 392.14 L1191.42 392.87 L1195.16 393.59 L1198.92 394.3 L1202.69 394.99 L1206.48 395.67 L1210.29 396.33 L1214.12 396.97 L1217.96 397.59 L1221.82 398.19 L1225.7 398.76 L1229.6 399.32 L1233.51 399.88 L1237.44 400.41 L1241.39 400.94 L1245.35 401.44 L1249.33 401.93 L1253.33 402.4 L1257.34 402.84 L1261.38 403.26 L1265.42 403.65 L1269.49 404.03 L1273.57 404.38 L1277.67 404.73 L1281.78 405.06 L1285.91 405.39 L1290.06 405.71 L1294.22 406.04 L1298.4 406.37 L1302.6 406.71 L1306.81 407.05 L1311.04 407.4 L1315.28 407.74 L1319.55 408.09 L1323.82 408.44 L1328.12 408.79 L1332.42 409.14 L1336.75 409.49 L1341.09 409.84 L1345.45 410.18 L1349.82 410.53 L1354.21 410.87 L1358.61 411.22 L1363.04 411.56 L1367.47 411.89 L1371.92 412.23 L1376.39 412.56 L1380.87 412.88 L1385.37 413.2 L1389.89 413.52 L1394.42 413.83 L1398.96 414.13 L1403.52 414.43 L1408.1 414.73 L1412.69 415.02 L1417.3 415.32 L1421.92 415.61 L1426.56 415.9 L1431.21 416.18 L1435.88 416.47 L1440.56 416.75 L1445.26 417.03 L1449.97 417.3 L1454.7 417.58 L1459.44 417.84 L1464.2 418.11 L1468.97 418.37 L1473.76 418.63 L1478.56 418.89 L1483.38 419.14 L1488.21 419.38 L1493.06 419.63 L1497.92 419.87 L1502.8 420.1" fill="none" stroke="#F08228" stroke-width="3.2" stroke-linejoin="round"/>
<path d="M895.3 26.3 L895.43 26.6 L895.69 27.21 L896.04 28.04 L896.47 29.05 L896.97 30.23 L897.54 31.56 L898.17 33.03 L898.85 34.63 L899.59 36.36 L900.37 38.2 L901.21 40.16 L902.09 42.22 L903.02 44.39 L903.99 46.66 L905.01 49.03 L906.06 51.5 L907.16 54.06 L908.3 56.71 L909.47 59.44 L910.68 62.26 L911.93 65.16 L913.22 68.14 L914.54 71.21 L915.89 74.36 L917.28 77.58 L918.71 80.89 L920.16 84.27 L921.65 87.74 L923.18 91.27 L924.73 94.88 L926.31 98.57 L927.93 102.32 L929.58 106.15 L931.25 110.04 L932.96 114.01 L934.7 118.06 L936.46 122.17 L938.26 126.35 L940.08 130.59 L941.93 134.88 L943.81 139.21 L945.72 143.59 L947.65 148.01 L949.61 152.48 L951.6 157.01 L953.62 161.59 L955.66 166.25 L957.73 170.97 L959.82 175.77 L961.94 180.62 L964.08 185.52 L966.26 190.45 L968.45 195.42 L970.67 200.43 L972.92 205.48 L975.19 210.56 L977.48 215.68 L979.8 220.84 L982.14 226.04 L984.51 231.28 L986.9 236.55 L989.32 241.83 L991.76 247.12 L994.22 252.42 L996.7 257.73 L999.21 263.05 L1001.74 268.35 L1004.29 273.61 L1006.87 278.87 L1009.47 284.1 L1012.09 289.31 L1014.73 294.45 L1017.4 299.52 L1020.08 304.5 L1022.79 309.43 L1025.52 314.34 L1028.27 319.26 L1031.05 324.23 L1033.84 329.21 L1036.66 334.11 L1039.5 338.85 L1042.36 343.42 L1045.24 347.9 L1048.14 352.22 L1051.06 356.31 L1054 360.14 L1056.96 363.78 L1059.95 367.27 L1062.95 370.65 L1065.97 373.93 L1069.02 377.15 L1072.08 380.32 L1075.17 383.38 L1078.27 386.29 L1081.4 388.98 L1084.54 391.56 L1087.7 394.03 L1090.89 396.4 L1094.09 398.65 L1097.31 400.8 L1100.56 402.83 L1103.82 404.79 L1107.1 406.66 L1110.4 408.44 L1113.72 410.12 L1117.05 411.69 L1120.41 413.21 L1123.79 414.67 L1127.18 416.04 L1130.59 417.31 L1134.03 418.45 L1137.48 419.47 L1140.94 420.42 L1144.43 421.29 L1147.94 422.1 L1151.46 422.84 L1155 423.51 L1158.56 424.14 L1162.14 424.74 L1165.74 425.31 L1169.36 425.85 L1172.99 426.38 L1176.64 426.89 L1180.31 427.39 L1183.99 427.89 L1187.7 428.39 L1191.42 428.9 L1195.16 429.4 L1198.92 429.89 L1202.69 430.38 L1206.48 430.86 L1210.29 431.33 L1214.12 431.79 L1217.96 432.25 L1221.82 432.69 L1225.7 433.12 L1229.6 433.55 L1233.51 433.97 L1237.44 434.38 L1241.39 434.78 L1245.35 435.18 L1249.33 435.56 L1253.33 435.94 L1257.34 436.3 L1261.38 436.65 L1265.42 436.98 L1269.49 437.3 L1273.57 437.61 L1277.67 437.91 L1281.78 438.21 L1285.91 438.5 L1290.06 438.79 L1294.22 439.08 L1298.4 439.38 L1302.6 439.69 L1306.81 439.99 L1311.04 440.3 L1315.28 440.6 L1319.55 440.9 L1323.82 441.2 L1328.12 441.5 L1332.42 441.8 L1336.75 442.11 L1341.09 442.41 L1345.45 442.71 L1349.82 443.02 L1354.21 443.33 L1358.61 443.64 L1363.04 443.95 L1367.47 444.27 L1371.92 444.59 L1376.39 444.92 L1380.87 445.25 L1385.37 445.59 L1389.89 445.93 L1394.42 446.28 L1398.96 446.64 L1403.52 447 L1408.1 447.36 L1412.69 447.74 L1417.3 448.11 L1421.92 448.49 L1426.56 448.88 L1431.21 449.27 L1435.88 449.66 L1440.56 450.07 L1445.26 450.47 L1449.97 450.88 L1454.7 451.29 L1459.44 451.71 L1464.2 452.14 L1468.97 452.57 L1473.76 453 L1478.56 453.44 L1483.38 453.88 L1488.21 454.33 L1493.06 454.78 L1497.92 455.24 L1502.8 455.7" fill="none" stroke="#CC0000" stroke-width="3.2" stroke-linejoin="round"/>
</g>
<path d="M1348.1 52.5H1406.2" stroke="#000" stroke-width="3.4" stroke-linecap="round"/>
<path d="M1371.6 80.1h10.8v10.8h-10.8z" fill="#FFC600"/>
<path d="M1371.6 112.9h10.8v10.8h-10.8z" fill="#F08228"/>
<path d="M1371.6 145.7h10.8v10.8h-10.8z" fill="#CC0000"/>
<path d="M1371.6 178.5h10.8v10.8h-10.8z" fill="#003DA6"/>
<g font-size="20.5" fill="#000" stroke="#000" stroke-width="0.2">
<text x="1418.5" y="59.4">Fitting</text>
<text x="1418.5" y="92.2">5.5</text>
<text x="1418.5" y="125">1.1</text>
<text x="1418.5" y="157.8">13.8</text>
<text x="1418.5" y="190.6">ML</text>
</g>
</svg>
</body></html>
